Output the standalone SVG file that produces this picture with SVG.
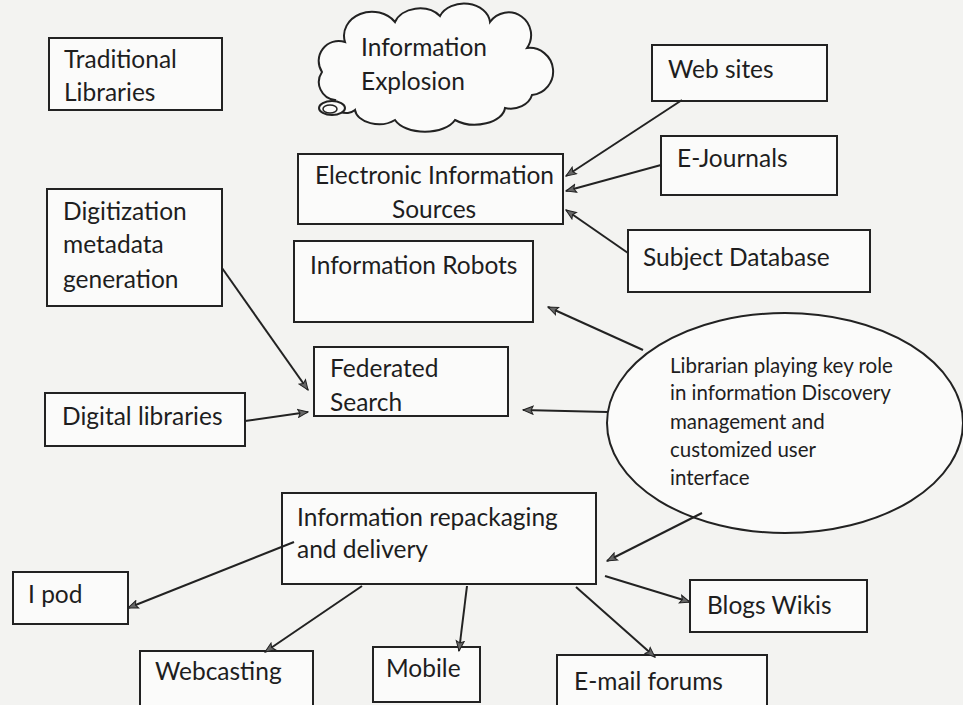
<svg xmlns="http://www.w3.org/2000/svg" width="963" height="705" viewBox="0 0 963 705">
<style>
.bg{fill:#f3f3f1}
.box{fill:#fbfbfa;stroke:#222;stroke-width:2}
.t{font-family:Lato,"Open Sans",sans-serif;font-size:24.5px;fill:#1e1e1e}
.s{font-family:Lato,"Open Sans",sans-serif;font-size:20.5px;fill:#1e1e1e}
.c{fill:none;stroke:#222;stroke-width:2}
</style>
<defs>
<marker id="ah" viewBox="0 0 12 10" refX="11" refY="5" markerWidth="12" markerHeight="10" markerUnits="userSpaceOnUse" orient="auto">
<path d="M1,1 L11,5 L1,9 L3,5 z" fill="#666" stroke="#222" stroke-width="1"/>
</marker>
</defs>
<rect class="bg" x="0" y="0" width="963" height="705"/>

<g id="traditional-libraries">
<rect class="box" x="49" y="38" width="173" height="72"/>
<text class="t" x="64" y="68">Traditional</text>
<text class="t" x="64" y="101">Libraries</text>
</g>

<g id="information-explosion">
<path class="box" d="M335,100 A18,18 0 0 1 322,72 A20,20 0 0 1 345,42 A28,24 0 0 1 395,22 A26,20 0 0 1 440,16 A26,20 0 0 1 490,22 A22,22 0 0 1 527,48 A20,20 0 0 1 532,95 A22,18 0 0 1 505,108 A30,18 0 0 1 455,120 A32,18 0 0 1 395,120 A24,16 0 0 1 355,110 A12,10 0 0 1 335,100 Z"/>
<ellipse cx="332" cy="108" rx="13" ry="7" fill="#fbfbfa" stroke="#222" stroke-width="2"/>
<ellipse cx="330" cy="109" rx="7" ry="4" fill="none" stroke="#222" stroke-width="1.5"/>
<text class="t" x="361" y="56">Information</text>
<text class="t" x="361" y="90">Explosion</text>
</g>

<g id="web-sites">
<rect class="box" x="652" y="45" width="175" height="56"/>
<text class="t" x="668" y="78">Web sites</text>
</g>

<g id="e-journals">
<rect class="box" x="661" y="136" width="176" height="59"/>
<text class="t" x="677" y="167">E-Journals</text>
</g>

<g id="subject-database">
<rect class="box" x="628" y="230" width="242" height="62"/>
<text class="t" x="643" y="266">Subject Database</text>
</g>

<g id="electronic-information-sources">
<rect class="box" x="298" y="154" width="265" height="70"/>
<text class="t" x="315" y="184">Electronic Information</text>
<text class="t" x="392" y="218">Sources</text>
</g>

<g id="information-robots">
<rect class="box" x="294" y="241" width="239" height="81"/>
<text class="t" x="310" y="274">Information Robots</text>
</g>

<g id="digitization">
<rect class="box" x="47" y="189" width="175" height="117"/>
<text class="t" x="63" y="220">Digitization</text>
<text class="t" x="63" y="253">metadata</text>
<text class="t" x="63" y="288">generation</text>
</g>

<g id="federated-search">
<rect class="box" x="314" y="347" width="194" height="69"/>
<text class="t" x="330" y="377">Federated</text>
<text class="t" x="330" y="411">Search</text>
</g>

<g id="digital-libraries">
<rect class="box" x="45" y="393" width="200" height="53"/>
<text class="t" x="62" y="425">Digital libraries</text>
</g>

<g id="librarian">
<ellipse class="box" cx="785" cy="423" rx="178" ry="110"/>
<text class="s" x="670" y="373">Librarian playing key role</text>
<text class="s" x="670" y="400">in information Discovery</text>
<text class="s" x="670" y="429">management and</text>
<text class="s" x="670" y="457">customized user</text>
<text class="s" x="670" y="485">interface</text>
</g>

<g id="information-repackaging">
<rect class="box" x="282" y="493" width="314" height="91"/>
<text class="t" x="297" y="526">Information repackaging</text>
<text class="t" x="297" y="558">and delivery</text>
</g>

<g id="ipod">
<rect class="box" x="13" y="572" width="115" height="52"/>
<text class="t" x="28" y="603">I pod</text>
</g>

<g id="webcasting">
<rect class="box" x="140" y="651" width="173" height="60"/>
<text class="t" x="155" y="680">Webcasting</text>
</g>

<g id="mobile">
<rect class="box" x="373" y="647" width="107" height="55"/>
<text class="t" x="386" y="677">Mobile</text>
</g>

<g id="email-forums">
<rect class="box" x="557" y="655" width="210" height="55"/>
<text class="t" x="574" y="690">E-mail forums</text>
</g>

<g id="blogs-wikis">
<rect class="box" x="690" y="580" width="177" height="52"/>
<text class="t" x="707" y="614">Blogs Wikis</text>
</g>

<g id="connectors">
<line class="c" x1="682" y1="100" x2="566" y2="176" marker-end="url(#ah)"/>
<line class="c" x1="661" y1="165" x2="566" y2="191" marker-end="url(#ah)"/>
<line class="c" x1="628" y1="253" x2="566" y2="210" marker-end="url(#ah)"/>
<line class="c" x1="222" y1="268" x2="308" y2="390" marker-end="url(#ah)"/>
<line class="c" x1="245" y1="421" x2="308" y2="412" marker-end="url(#ah)"/>
<line class="c" x1="643" y1="350" x2="548" y2="307" marker-end="url(#ah)"/>
<line class="c" x1="607" y1="412" x2="523" y2="410" marker-end="url(#ah)"/>
<line class="c" x1="702" y1="513" x2="607" y2="561" marker-end="url(#ah)"/>
<line class="c" x1="294" y1="542" x2="128" y2="608" marker-end="url(#ah)"/>
<line class="c" x1="362" y1="586" x2="265" y2="652" marker-end="url(#ah)"/>
<line class="c" x1="467" y1="586" x2="459" y2="651" marker-end="url(#ah)"/>
<line class="c" x1="605" y1="576" x2="690" y2="602" marker-end="url(#ah)"/>
<line class="c" x1="576" y1="587" x2="655" y2="657" marker-end="url(#ah)"/>
</g>
</svg>
